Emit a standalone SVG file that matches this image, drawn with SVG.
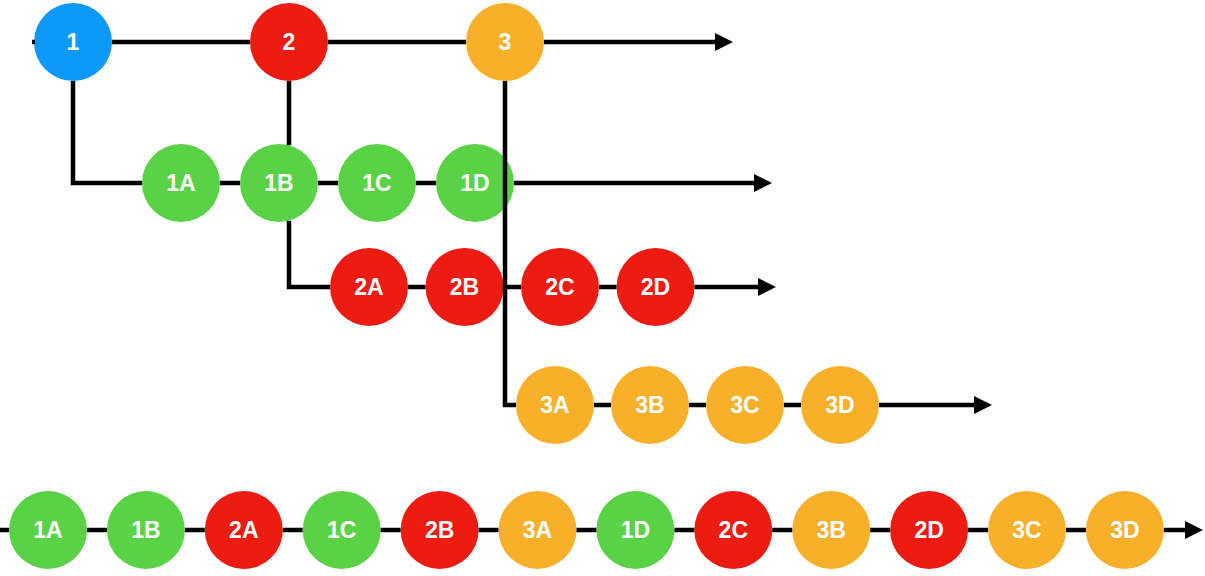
<svg xmlns="http://www.w3.org/2000/svg" width="1205" height="576" viewBox="0 0 1205 576">
<style>
.c{stroke:none}
.blue{fill:#0C99F9}
.red{fill:#EC1C13}
.org{fill:#F8B02B}
.grn{fill:#59D345}
text{font-family:"Liberation Sans",Arial,sans-serif;font-weight:bold;font-size:23px;fill:#fff;text-anchor:middle}
.ln{fill:none;stroke:#000;stroke-width:4.5}
.ar{marker-end:url(#ah)}
</style>
<defs>
<marker id="ah" markerUnits="userSpaceOnUse" markerWidth="18" markerHeight="18" viewBox="0 0 18 18" refX="0" refY="9" orient="auto"><path d="M0,0 L18,9 L0,18 z" fill="#000"/></marker>
</defs>
<rect width="1205" height="576" fill="#fff"/>
<g id="nodes">
<g id="n1"><circle class="blue" cx="73" cy="42" r="39"/><text x="73" y="50">1</text></g>
<g id="n2"><circle class="red" cx="289" cy="42" r="39"/><text x="289" y="50">2</text></g>
<g id="n3"><circle class="org" cx="505" cy="42" r="39"/><text x="505" y="50">3</text></g>
<g id="n1A"><circle class="grn" cx="181" cy="183" r="39"/><text x="181" y="191">1A</text></g>
<g id="n1B"><circle class="grn" cx="279" cy="183" r="39"/><text x="279" y="191">1B</text></g>
<g id="n1C"><circle class="grn" cx="377" cy="183" r="39"/><text x="377" y="191">1C</text></g>
<g id="n1D"><circle class="grn" cx="475" cy="183" r="39"/><text x="475" y="191">1D</text></g>
<g id="n2A"><circle class="red" cx="369" cy="287" r="39"/><text x="369" y="295">2A</text></g>
<g id="n2B"><circle class="red" cx="464.5" cy="287" r="39"/><text x="464.5" y="295">2B</text></g>
<g id="n2C"><circle class="red" cx="560" cy="287" r="39"/><text x="560" y="295">2C</text></g>
<g id="n2D"><circle class="red" cx="655.5" cy="287" r="39"/><text x="655.5" y="295">2D</text></g>
<g id="n3A"><circle class="org" cx="555" cy="405" r="39"/><text x="555" y="413">3A</text></g>
<g id="n3B"><circle class="org" cx="650" cy="405" r="39"/><text x="650" y="413">3B</text></g>
<g id="n3C"><circle class="org" cx="745" cy="405" r="39"/><text x="745" y="413">3C</text></g>
<g id="n3D"><circle class="org" cx="840" cy="405" r="39"/><text x="840" y="413">3D</text></g>
<g id="b1A"><circle class="grn" cx="48" cy="530" r="39"/><text x="48" y="538">1A</text></g>
<g id="b1B"><circle class="grn" cx="145.9" cy="530" r="39"/><text x="145.9" y="538">1B</text></g>
<g id="b2A"><circle class="red" cx="243.8" cy="530" r="39"/><text x="243.8" y="538">2A</text></g>
<g id="b1C"><circle class="grn" cx="341.7" cy="530" r="39"/><text x="341.7" y="538">1C</text></g>
<g id="b2B"><circle class="red" cx="439.6" cy="530" r="39"/><text x="439.6" y="538">2B</text></g>
<g id="b3A"><circle class="org" cx="537.5" cy="530" r="39"/><text x="537.5" y="538">3A</text></g>
<g id="b1D"><circle class="grn" cx="635.4" cy="530" r="39"/><text x="635.4" y="538">1D</text></g>
<g id="b2C"><circle class="red" cx="733.3" cy="530" r="39"/><text x="733.3" y="538">2C</text></g>
<g id="b3B"><circle class="org" cx="831.2" cy="530" r="39"/><text x="831.2" y="538">3B</text></g>
<g id="b2D"><circle class="red" cx="929.1" cy="530" r="39"/><text x="929.1" y="538">2D</text></g>
<g id="b3C"><circle class="org" cx="1027" cy="530" r="39"/><text x="1027" y="538">3C</text></g>
<g id="b3D"><circle class="org" cx="1124.9" cy="530" r="39"/><text x="1124.9" y="538">3D</text></g>
</g>
<g id="connectors">
<path class="ln" d="M32,42 H35 M112,42 H250 M328,42 H466"/>
<path class="ln ar" d="M544,42 H715"/>
<path class="ln" d="M73,81 V183 H142 M220,183 H240 M318,183 H338 M416,183 H436"/>
<path class="ln ar" d="M514,183 H754"/>
<path class="ln" d="M289,81 V145.3 M289,220.7 V287 H330 M408,287 H425.5 M503.5,287 H521 M599,287 H616.5"/>
<path class="ln ar" d="M694.5,287 H758"/>
<path class="ln" d="M505,81 V405 H516 M594,405 H611 M689,405 H706 M784,405 H801"/>
<path class="ln ar" d="M879,405 H974"/>
<path class="ln" d="M0,530 H9 M87,530 H106.9 M184.9,530 H204.8 M282.8,530 H302.7 M380.7,530 H400.6 M478.6,530 H498.5 M576.5,530 H596.4 M674.4,530 H694.3 M772.3,530 H792.2 M870.2,530 H890.1 M968.1,530 H988 M1066,530 H1085.9"/>
<path class="ln ar" d="M1163.9,530 H1185"/>
</g>
</svg>
